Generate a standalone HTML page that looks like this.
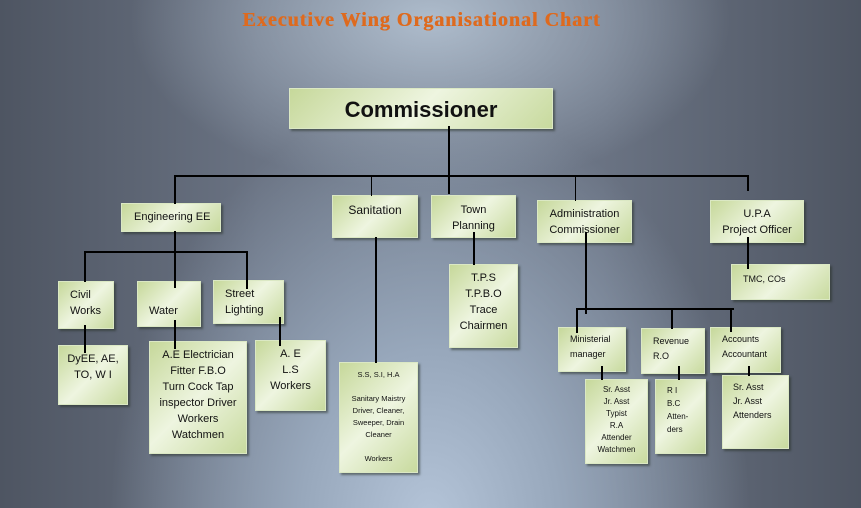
<!DOCTYPE html>
<html><head><meta charset="utf-8"><style>
html,body{margin:0;padding:0}
body{width:861px;height:508px;position:relative;overflow:hidden;
background:radial-gradient(ellipse 320px 420px at 430px 520px,#b4c4d8 0%,#98a8bc 40%,rgba(120,132,150,0) 100%),
radial-gradient(ellipse 300px 170px at 430px 20px,#aebccc 0%,rgba(150,162,180,0) 100%),
linear-gradient(90deg,#4e5562 0%,#6a7383 30%,#6e7888 50%,#6a7383 70%,#4e5562 100%);
font-family:"Liberation Sans",sans-serif;color:#111}
.t{position:absolute;left:0;width:843px;top:9px;text-align:center;font-family:"Liberation Serif",serif;font-weight:bold;font-size:20px;color:#de6a1e;letter-spacing:1px;text-shadow:0.5px 0 0 #de6a1e}
.b{position:absolute;box-sizing:border-box;border:1px solid #dbe8c4;background:linear-gradient(135deg,#c6d89a 0%,#eef5e0 50%,#c8da9e 100%);box-shadow:2px 2px 2px rgba(40,50,40,.55);font-size:11px;line-height:16px}
.l{position:absolute;background:#000;z-index:2}
</style></head><body>
<div class="t">Executive Wing Organisational Chart</div>

<!-- lines -->
<div class="l" style="left:448px;top:126px;width:2px;height:68px"></div>
<div class="l" style="left:174px;top:175px;width:575px;height:2px"></div>
<div class="l" style="left:174px;top:175px;width:2px;height:29px"></div>
<div class="l" style="left:371px;top:175px;width:1px;height:21px"></div>
<div class="l" style="left:575px;top:175px;width:1px;height:26px"></div>
<div class="l" style="left:747px;top:175px;width:2px;height:16px"></div>
<div class="l" style="left:747px;top:237px;width:2px;height:32px"></div>
<div class="l" style="left:174px;top:231px;width:2px;height:57px"></div>
<div class="l" style="left:84px;top:251px;width:164px;height:2px"></div>
<div class="l" style="left:84px;top:251px;width:2px;height:31px"></div>
<div class="l" style="left:246px;top:251px;width:2px;height:38px"></div>
<div class="l" style="left:84px;top:325px;width:2px;height:28px"></div>
<div class="l" style="left:174px;top:320px;width:2px;height:29px"></div>
<div class="l" style="left:279px;top:317px;width:2px;height:29px"></div>
<div class="l" style="left:375px;top:237px;width:2px;height:126px"></div>
<div class="l" style="left:473px;top:232px;width:2px;height:33px"></div>
<div class="l" style="left:585px;top:232px;width:2px;height:82px"></div>
<div class="l" style="left:576px;top:308px;width:158px;height:2px"></div>
<div class="l" style="left:576px;top:308px;width:2px;height:25px"></div>
<div class="l" style="left:671px;top:308px;width:2px;height:21px"></div>
<div class="l" style="left:730px;top:308px;width:2px;height:24px"></div>
<div class="l" style="left:601px;top:366px;width:2px;height:14px"></div>
<div class="l" style="left:678px;top:366px;width:2px;height:14px"></div>
<div class="l" style="left:748px;top:366px;width:2px;height:10px"></div>

<!-- boxes -->
<div class="b" style="left:289px;top:88px;width:264px;height:41px;font-size:22px;font-weight:bold;line-height:41px;text-align:center">Commissioner</div>
<div class="b" style="left:121px;top:203px;width:100px;height:29px;line-height:27px;padding-left:12px">Engineering EE</div>
<div class="b" style="left:332px;top:195px;width:86px;height:43px;padding:6px 0 0 0;text-align:center;font-size:12px">Sanitation</div>
<div class="b" style="left:431px;top:195px;width:85px;height:43px;padding:6px 0 0 0;text-align:center">Town<br>Planning</div>
<div class="b" style="left:537px;top:200px;width:95px;height:43px;padding:5px 0 0 0;text-align:center">Administration<br>Commissioner</div>
<div class="b" style="left:710px;top:200px;width:94px;height:43px;padding:5px 0 0 0;text-align:center">U.P.A<br>Project Officer</div>

<div class="b" style="left:58px;top:281px;width:56px;height:48px;padding:5px 0 0 11px">Civil<br>Works</div>
<div class="b" style="left:137px;top:281px;width:64px;height:46px;padding:21px 0 0 11px">Water</div>
<div class="b" style="left:213px;top:280px;width:71px;height:44px;padding:5px 0 0 11px">Street<br>Lighting</div>
<div class="b" style="left:58px;top:345px;width:70px;height:60px;padding:5px 0 0 0;text-align:center">DyEE, AE,<br>TO, W I</div>
<div class="b" style="left:149px;top:341px;width:98px;height:113px;padding:5px 0 0 0;text-align:center">A.E Electrician<br>Fitter F.B.O<br>Turn Cock Tap<br>inspector Driver<br>Workers<br>Watchmen</div>
<div class="b" style="left:255px;top:340px;width:71px;height:71px;padding:5px 0 0 0;text-align:center">A. E<br>L.S<br>Workers</div>
<div class="b" style="left:339px;top:362px;width:79px;height:111px;padding:6px 0 0 0;text-align:center;font-size:7.5px;line-height:12px">S.S, S.I, H.A<br><br>Sanitary Maistry<br>Driver, Cleaner,<br>Sweeper, Drain<br>Cleaner<br><br>Workers</div>
<div class="b" style="left:449px;top:264px;width:69px;height:84px;padding:5px 0 0 0;text-align:center">T.P.S<br>T.P.B.O<br>Trace<br>Chairmen</div>
<div class="b" style="left:731px;top:264px;width:99px;height:36px;padding:6px 0 0 11px;font-size:9px">TMC, COs</div>

<div class="b" style="left:558px;top:327px;width:68px;height:45px;padding:4px 0 0 11px;font-size:9px;line-height:15px">Ministerial<br>manager</div>
<div class="b" style="left:641px;top:328px;width:64px;height:46px;padding:5px 0 0 11px;font-size:9px;line-height:15px">Revenue<br>R.O</div>
<div class="b" style="left:710px;top:327px;width:71px;height:46px;padding:4px 0 0 11px;font-size:9px;line-height:15px">Accounts<br>Accountant</div>
<div class="b" style="left:585px;top:379px;width:63px;height:85px;padding:4px 0 0 0;text-align:center;font-size:8px;line-height:12px">Sr. Asst<br>Jr. Asst<br>Typist<br>R.A<br>Attender<br>Watchmen</div>
<div class="b" style="left:655px;top:379px;width:51px;height:75px;padding:4px 0 0 11px;font-size:8px;line-height:13px">R I<br>B.C<br>Atten-<br>ders</div>
<div class="b" style="left:722px;top:375px;width:67px;height:74px;padding:4px 0 0 10px;font-size:9px;line-height:14px">Sr. Asst<br>Jr. Asst<br>Attenders</div>
</body></html>
